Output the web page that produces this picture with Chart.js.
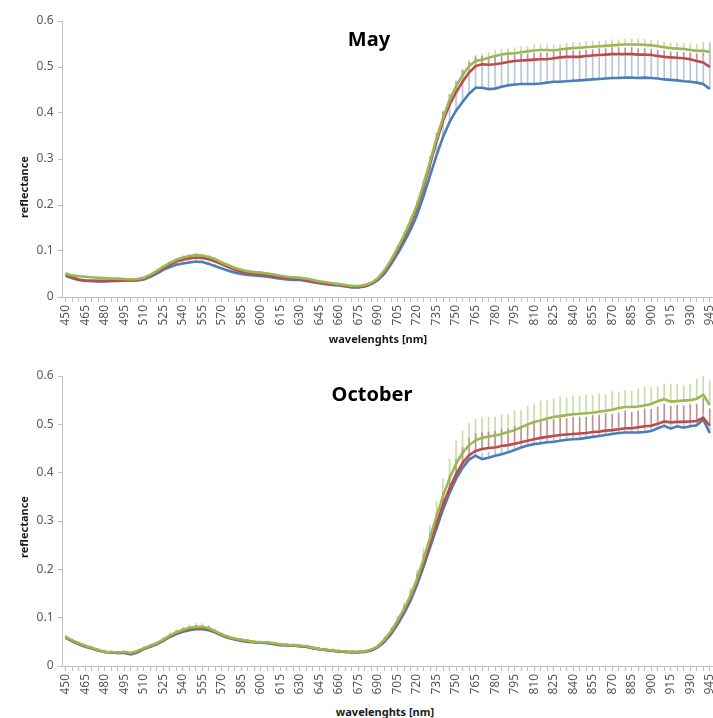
<!DOCTYPE html>
<html>
<head>
<meta charset="utf-8">
<script src="https://cdn.jsdelivr.net/npm/chart.js@4"></script>
<style>
  body { margin: 0; width: 713px; height: 718px; overflow: hidden; position: relative; background: #fff; font-family: "Noto Sans", sans-serif; }
  canvas { position: absolute; left: 0; }
  #mayChart { top: 0; }
  #octChart { top: 355px; }
  .lbl { position: absolute; transform: translate(-50%, -50%); white-space: nowrap; font-weight: bold; color: #1a1a1a; }
  .title { font-size: 20px; color: #000; }
  .axis { font-size: 11px; }
  .rot { transform: translate(-50%, -50%) rotate(-90deg); }
</style>
</head>
<body>
<canvas id="mayChart" width="713" height="327"></canvas>
<canvas id="octChart" width="713" height="341"></canvas>

<div class="lbl title" style="left:369px; top:38px;">May</div>
<div class="lbl title" style="left:372px; top:393px;">October</div>
<div class="lbl axis rot" style="left:23px; top:187px;">reflectance</div>
<div class="lbl axis rot" style="left:23px; top:527px;">reflectance</div>
<div class="lbl axis" style="left:378px; top:338px;">wavelenghts [nm]</div>
<div class="lbl axis" style="left:385px; top:711px;">wavelenghts [nm]</div>

<script>
// wavelengths, every 5 nm
const wavelengths = [
  450, 455, 460, 465, 470, 475, 480, 485, 490, 495,
  500, 505, 510, 515, 520, 525, 530, 535, 540, 545,
  550, 555, 560, 565, 570, 575, 580, 585, 590, 595,
  600, 605, 610, 615, 620, 625, 630, 635, 640, 645,
  650, 655, 660, 665, 670, 675, 680, 685, 690, 695,
  700, 705, 710, 715, 720, 725, 730, 735, 740, 745,
  750, 755, 760, 765, 770, 775, 780, 785, 790, 795,
  800, 805, 810, 815, 820, 825, 830, 835, 840, 845,
  850, 855, 860, 865, 870, 875, 880, 885, 890, 895,
  900, 905, 910, 915, 920, 925, 930, 935, 940, 945
];
const yTicks = [0, 0.1, 0.2, 0.3, 0.4, 0.5, 0.6];

// May
const mayGreen = [
  .051, .047, .045, .044, .043, .042, .041, .040, .040, .039,
  .038, .039, .042, .048, .057, .066, .074, .081, .086, .089,
  .091, .090, .087, .082, .075, .069, .063, .059, .056, .054,
  .053, .051, .049, .046, .044, .043, .042, .040, .037, .034,
  .032, .030, .028, .026, .024, .024, .026, .031, .041, .058,
  .080, .106, .134, .165, .200, .245, .295, .345, .390, .428,
  .458, .482, .502, .513, .516, .520, .524, .527, .529, .530,
  .532, .534, .536, .537, .537, .536, .538, .540, .541, .542,
  .543, .544, .545, .546, .547, .548, .549, .549, .549, .548,
  .547, .545, .543, .541, .540, .539, .537, .535, .535, .533
];
const mayRed = [
  .048, .043, .038, .036, .035, .035, .035, .035, .036, .036,
  .036, .037, .040, .046, .054, .063, .070, .077, .081, .084,
  .086, .085, .082, .077, .071, .065, .059, .055, .052, .050,
  .049, .047, .045, .043, .041, .040, .039, .037, .034, .031,
  .029, .027, .026, .024, .022, .022, .024, .029, .039, .055,
  .077, .102, .129, .159, .193, .238, .288, .338, .383, .418,
  .445, .468, .488, .502, .506, .505, .506, .508, .511, .513,
  .514, .515, .516, .517, .517, .519, .521, .522, .522, .522,
  .524, .525, .526, .527, .528, .528, .528, .528, .527, .527,
  .526, .524, .522, .521, .520, .519, .517, .513, .510, .500
];
const mayBlue = [
  .046, .041, .037, .035, .035, .034, .034, .035, .035, .036,
  .036, .036, .038, .044, .051, .059, .065, .070, .073, .075,
  .077, .076, .072, .067, .062, .057, .053, .050, .048, .047,
  .046, .044, .042, .040, .038, .037, .037, .035, .032, .030,
  .028, .026, .025, .023, .021, .021, .023, .028, .037, .051,
  .071, .094, .119, .146, .178, .219, .264, .308, .348, .380,
  .405, .424, .442, .455, .455, .452, .453, .457, .460, .462,
  .463, .463, .463, .464, .466, .468, .468, .469, .470, .471,
  .472, .473, .474, .475, .476, .476, .477, .477, .476, .477,
  .476, .475, .473, .472, .471, .469, .468, .466, .463, .452
];
// May standard deviations (drawn upward only)
const mayGreenErr = [
  .002, .002, .002, .002, .002, .002, .002, .002, .002, .002,
  .002, .002, .002, .002, .003, .003, .003, .003, .004, .004,
  .004, .004, .004, .003, .003, .003, .003, .002, .002, .002,
  .002, .002, .002, .002, .002, .002, .002, .002, .002, .002,
  .002, .002, .002, .002, .002, .002, .002, .002, .003, .004,
  .005, .006, .007, .008, .009, .010, .011, .012, .012, .012,
  .012, .013, .013, .013, .012, .012, .013, .012, .011, .012,
  .012, .011, .012, .012, .011, .012, .011, .012, .012, .011,
  .012, .012, .011, .012, .012, .011, .012, .012, .011, .012,
  .011, .012, .011, .011, .012, .012, .013, .014, .018, .020
];
const mayRedErr = [
  .002, .002, .002, .002, .002, .002, .002, .002, .002, .002,
  .002, .002, .002, .002, .003, .003, .003, .003, .004, .004,
  .004, .004, .004, .003, .003, .003, .003, .002, .002, .002,
  .002, .002, .002, .002, .002, .002, .002, .002, .002, .002,
  .002, .002, .002, .002, .002, .002, .002, .002, .003, .004,
  .005, .006, .008, .010, .012, .014, .016, .018, .020, .022,
  .024, .025, .022, .020, .018, .016, .015, .015, .014, .014,
  .014, .013, .014, .013, .014, .013, .013, .014, .013, .013,
  .013, .013, .014, .013, .014, .014, .013, .014, .013, .013,
  .013, .013, .013, .012, .013, .013, .014, .016, .020, .030
];
const mayBlueErr = [
  .002, .002, .002, .002, .002, .002, .002, .002, .002, .002,
  .002, .002, .002, .003, .003, .003, .004, .004, .004, .004,
  .004, .004, .004, .004, .003, .003, .003, .003, .002, .002,
  .002, .002, .002, .002, .002, .002, .002, .002, .002, .002,
  .002, .002, .002, .002, .002, .002, .002, .003, .004, .006,
  .008, .010, .012, .015, .018, .022, .028, .035, .045, .055,
  .062, .062, .058, .055, .053, .052, .051, .050, .050, .050,
  .050, .050, .050, .050, .049, .049, .049, .049, .049, .048,
  .048, .048, .048, .048, .048, .047, .047, .047, .047, .046,
  .046, .046, .046, .046, .046, .047, .048, .050, .060, .100
];

// October
const octGreen = [
  .060, .053, .047, .042, .038, .033, .029, .029, .028, .029,
  .027, .031, .037, .042, .047, .055, .063, .070, .075, .079,
  .081, .081, .078, .072, .065, .060, .057, .054, .052, .050,
  .049, .049, .047, .045, .044, .043, .042, .041, .038, .035,
  .034, .032, .031, .030, .029, .029, .030, .034, .041, .055,
  .072, .094, .118, .146, .180, .221, .265, .310, .352, .388,
  .418, .441, .457, .467, .472, .475, .477, .480, .484, .488,
  .494, .500, .505, .508, .512, .515, .517, .519, .521, .522,
  .523, .524, .526, .528, .530, .534, .536, .536, .537, .539,
  .542, .548, .552, .547, .548, .549, .550, .553, .561, .540
];
const octRed = [
  .059, .052, .046, .041, .037, .032, .029, .028, .027, .028,
  .026, .029, .036, .041, .046, .054, .061, .068, .073, .076,
  .078, .078, .076, .070, .064, .059, .056, .053, .051, .049,
  .048, .048, .046, .044, .043, .043, .041, .040, .037, .035,
  .033, .032, .030, .029, .029, .029, .030, .033, .040, .053,
  .070, .091, .115, .142, .175, .213, .254, .295, .334, .367,
  .397, .420, .436, .445, .449, .451, .452, .455, .457, .460,
  .463, .466, .469, .472, .474, .476, .478, .479, .480, .481,
  .482, .484, .485, .487, .488, .490, .492, .492, .494, .496,
  .497, .501, .506, .504, .505, .505, .506, .507, .514, .497
];
const octBlue = [
  .058, .051, .045, .040, .036, .032, .029, .028, .027, .027,
  .024, .028, .035, .040, .045, .052, .060, .066, .071, .074,
  .076, .076, .074, .069, .063, .058, .055, .052, .050, .049,
  .048, .047, .045, .043, .043, .042, .041, .040, .037, .034,
  .033, .031, .030, .029, .028, .028, .029, .032, .039, .050,
  .066, .086, .109, .135, .168, .205, .245, .285, .324, .358,
  .387, .410, .427, .435, .428, .431, .435, .438, .442, .447,
  .452, .456, .459, .461, .463, .464, .466, .468, .469, .470,
  .472, .474, .476, .478, .480, .482, .483, .483, .483, .484,
  .486, .492, .497, .491, .496, .493, .496, .498, .510, .482
];
const octGreenErr = [
  .003, .003, .003, .003, .003, .003, .003, .003, .003, .003,
  .003, .003, .003, .003, .004, .004, .005, .005, .006, .006,
  .007, .007, .006, .005, .004, .004, .003, .003, .003, .003,
  .003, .003, .003, .003, .003, .003, .003, .003, .003, .003,
  .003, .003, .003, .003, .003, .003, .003, .003, .004, .006,
  .008, .010, .012, .015, .018, .022, .026, .030, .035, .040,
  .048, .046, .045, .044, .042, .040, .038, .040, .036, .040,
  .035, .038, .036, .040, .037, .038, .040, .036, .038, .036,
  .038, .036, .037, .034, .038, .033, .035, .034, .036, .038,
  .034, .030, .032, .036, .035, .030, .032, .040, .045, .050
];
const octRedErr = [
  .003, .003, .003, .003, .003, .003, .003, .003, .003, .003,
  .003, .003, .003, .003, .003, .003, .004, .004, .005, .005,
  .005, .005, .005, .004, .004, .003, .003, .003, .003, .003,
  .003, .003, .003, .003, .003, .003, .003, .003, .003, .003,
  .003, .003, .003, .003, .003, .003, .003, .003, .004, .005,
  .006, .008, .010, .012, .015, .018, .020, .022, .026, .028,
  .030, .032, .035, .036, .034, .033, .034, .035, .033, .036,
  .033, .034, .036, .033, .035, .034, .036, .033, .035, .034,
  .033, .035, .034, .036, .033, .034, .036, .033, .034, .036,
  .034, .035, .036, .033, .035, .034, .036, .035, .040, .035
];
const octBlueErr = [
  .002, .002, .002, .002, .002, .002, .002, .002, .002, .002,
  .002, .002, .002, .002, .002, .002, .003, .003, .003, .003,
  .003, .003, .003, .003, .002, .002, .002, .002, .002, .002,
  .002, .002, .002, .002, .002, .002, .002, .002, .002, .002,
  .002, .002, .002, .002, .002, .002, .002, .002, .003, .003,
  .004, .005, .006, .007, .008, .009, .010, .011, .012, .012,
  .012, .012, .012, .012, .012, .012, .012, .012, .012, .012,
  .012, .012, .012, .012, .012, .012, .012, .012, .012, .012,
  .012, .012, .012, .012, .012, .012, .012, .012, .012, .012,
  .012, .012, .012, .012, .012, .012, .012, .012, .012, .012
];

const colors = {
  green: '#98b954', red: '#be4b48', blue: '#4a7ebb',
  greenErr: '#cbdba8', redErr: '#c09290', blueErr: '#b9c7d8'
};

// error bars as 1px floating bars from the mean up to mean + sd
function errorBars(values, errs, color) {
  return {
    type: 'bar',
    data: values.map((v, i) => [v, v + errs[i]]),
    backgroundColor: color,
    barThickness: 1,
    grouped: false,
    borderWidth: 0,
    order: 10
  };
}

function line(values, color, order) {
  return {
    type: 'line',
    data: values,
    borderColor: color,
    borderWidth: 2.6,
    pointRadius: 0,
    tension: 0,
    fill: false,
    order: order
  };
}

function makeChart(canvasId, green, red, blue, greenErr, redErr, blueErr) {
  const ctx = document.getElementById(canvasId).getContext('2d');
  return new Chart(ctx, {
    type: 'line',
    data: {
      labels: wavelengths,
      datasets: [
        errorBars(blue, blueErr, colors.blueErr),
        errorBars(red, redErr, colors.redErr),
        errorBars(green, greenErr, colors.greenErr),
        line(blue, colors.blue, 3),
        line(red, colors.red, 2),
        line(green, colors.green, 1)
      ]
    },
    options: {
      responsive: false,
      animation: false,
      layout: { padding: { top: 21, left: 0, right: 0, bottom: 0 } },
      plugins: { legend: { display: false }, tooltip: { enabled: false } },
      scales: {
        x: {
          offset: true,
          grid: { drawOnChartArea: false, offset: false, tickLength: 5, color: '#bfbfbf' },
          border: { color: '#bfbfbf' },
          ticks: {
            autoSkip: false,
            minRotation: 90,
            maxRotation: 90,
            padding: 3,
            color: '#595959',
            font: { family: 'Noto Sans', size: 12 },
            callback: (val, i) => (i % 3 === 0 ? wavelengths[i] : '')
          },
          afterFit: s => { s.height = 30; s.paddingLeft = 0; s.paddingRight = 0; }
        },
        y: {
          min: 0,
          max: 0.6,
          grid: { drawOnChartArea: false, tickLength: 5, color: '#bfbfbf' },
          border: { color: '#bfbfbf' },
          afterBuildTicks: s => { s.ticks = yTicks.map(v => ({ value: v })); },
          ticks: {
            padding: 4,
            color: '#595959',
            font: { family: 'Noto Sans', size: 12 },
            callback: v => String(Math.round(v * 10) / 10)
          },
          afterFit: s => { s.width = 62.5; }
        }
      }
    }
  });
}

makeChart('mayChart', mayGreen, mayRed, mayBlue, mayGreenErr, mayRedErr, mayBlueErr);
makeChart('octChart', octGreen, octRed, octBlue, octGreenErr, octRedErr, octBlueErr);
</script>
</body>
</html>
